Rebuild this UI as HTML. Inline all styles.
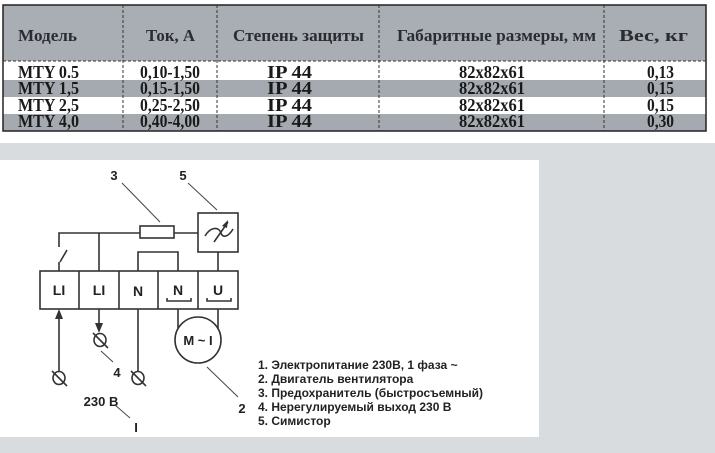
<!DOCTYPE html>
<html><head><meta charset="utf-8"><style>
html,body{margin:0;padding:0;background:#fff;}
svg{display:block;}
.h{font-family:"Liberation Serif",serif;font-weight:bold;font-size:17px;fill:#2a2c30;}
.r{font-family:"Liberation Serif",serif;font-weight:bold;font-size:18px;fill:#1a1a1a;}
.s{font-family:"Liberation Sans",sans-serif;font-weight:bold;fill:#222;}
</style></head><body>
<svg width="715" height="453" viewBox="0 0 715 453" xmlns="http://www.w3.org/2000/svg">
<rect x="0" y="0" width="715" height="453" fill="#fff"/>
<rect x="3" y="5" width="703" height="56" fill="#a9adb4"/>
<rect x="3" y="61" width="703" height="19" fill="#fff"/>
<rect x="3" y="80" width="703" height="17" fill="#a5a9b0"/>
<rect x="3" y="97" width="703" height="17" fill="#fff"/>
<rect x="3" y="114" width="703" height="17" fill="#a5a9b0"/>
<rect x="3" y="5" width="703" height="126" fill="none" stroke="#222" stroke-width="1.5"/>
<g stroke="#333" stroke-width="1" stroke-dasharray="3,2">
<line x1="3" y1="61" x2="706" y2="61"/>
<line x1="123" y1="5" x2="123" y2="131"/>
<line x1="217" y1="5" x2="217" y2="131"/>
<line x1="379" y1="5" x2="379" y2="131"/>
<line x1="604" y1="5" x2="604" y2="131"/>
</g>
<g class="h">
<text x="18" y="41" textLength="59" lengthAdjust="spacingAndGlyphs">Модель</text>
<text x="146" y="41" textLength="49" lengthAdjust="spacingAndGlyphs">Ток, А</text>
<text x="233" y="41" textLength="131" lengthAdjust="spacingAndGlyphs">Степень защиты</text>
<text x="397" y="41" textLength="199" lengthAdjust="spacingAndGlyphs">Габаритные размеры, мм</text>
<text x="619" y="41" textLength="69" lengthAdjust="spacingAndGlyphs">Вес, кг</text>
</g>
<g class="r">
<text x="18" y="78" textLength="61" lengthAdjust="spacingAndGlyphs">MTY 0.5</text><text x="140" y="78" textLength="60" lengthAdjust="spacingAndGlyphs">0,10-1,50</text><text x="267" y="78" textLength="45" lengthAdjust="spacingAndGlyphs">IP 44</text><text x="459" y="78" textLength="66" lengthAdjust="spacingAndGlyphs">82x82x61</text><text x="647" y="78" textLength="27" lengthAdjust="spacingAndGlyphs">0,13</text>
<text x="18" y="94" textLength="61" lengthAdjust="spacingAndGlyphs">MTY 1,5</text><text x="140" y="94" textLength="60" lengthAdjust="spacingAndGlyphs">0,15-1,50</text><text x="267" y="94" textLength="45" lengthAdjust="spacingAndGlyphs">IP 44</text><text x="459" y="94" textLength="66" lengthAdjust="spacingAndGlyphs">82x82x61</text><text x="647" y="94" textLength="27" lengthAdjust="spacingAndGlyphs">0,15</text>
<text x="18" y="111" textLength="61" lengthAdjust="spacingAndGlyphs">MTY 2,5</text><text x="140" y="111" textLength="60" lengthAdjust="spacingAndGlyphs">0,25-2,50</text><text x="267" y="111" textLength="45" lengthAdjust="spacingAndGlyphs">IP 44</text><text x="459" y="111" textLength="66" lengthAdjust="spacingAndGlyphs">82x82x61</text><text x="647" y="111" textLength="27" lengthAdjust="spacingAndGlyphs">0,15</text>
<text x="18" y="127" textLength="61" lengthAdjust="spacingAndGlyphs">MTY 4,0</text><text x="140" y="127" textLength="60" lengthAdjust="spacingAndGlyphs">0,40-4,00</text><text x="267" y="127" textLength="45" lengthAdjust="spacingAndGlyphs">IP 44</text><text x="459" y="127" textLength="66" lengthAdjust="spacingAndGlyphs">82x82x61</text><text x="647" y="127" textLength="27" lengthAdjust="spacingAndGlyphs">0,30</text>
</g>
<rect x="0" y="143" width="715" height="310" fill="#d8dcdf"/>
<rect x="0" y="160" width="539" height="277" fill="#fff"/>
<g stroke="#333" stroke-width="1.6" fill="none">
<rect x="40" y="271" width="198" height="38"/>
<line x1="79" y1="271" x2="79" y2="309"/><line x1="119" y1="271" x2="119" y2="309"/>
<line x1="158" y1="271" x2="158" y2="309"/><line x1="198" y1="271" x2="198" y2="309"/>
<polyline points="59,247 59,233 140,233"/>
<line x1="60" y1="262" x2="67" y2="250"/>
<line x1="59" y1="262" x2="59" y2="271"/>
<line x1="99" y1="233" x2="99" y2="271"/>
<rect x="140" y="226" width="34" height="12"/>
<line x1="174" y1="233" x2="198" y2="233"/>
<rect x="198" y="213" width="40" height="39"/>
<line x1="218" y1="252" x2="218" y2="271"/>
<polyline points="138,271 138,252 178,252 178,271"/>
<path d="M205 236 C211 226 219 227 221 233 C223 239 229 236 233 229"/>
<line x1="214" y1="242" x2="228" y2="222"/>
<polyline points="167,298 167,301 191,301 191,298"/>
<polyline points="207,298 207,301 231,301 231,298"/>
<line x1="178" y1="309" x2="178" y2="328"/><line x1="218" y1="309" x2="218" y2="328"/>
<circle cx="198" cy="340" r="23" fill="#fff"/>
<line x1="59" y1="318" x2="59" y2="372"/>
<line x1="99" y1="309" x2="99" y2="328"/>
<line x1="138" y1="309" x2="138" y2="372"/>
<ellipse cx="59" cy="378" rx="6" ry="6.5"/><line x1="52" y1="371" x2="67" y2="386"/>
<ellipse cx="100" cy="340" rx="6" ry="6.5"/><line x1="93" y1="333" x2="108" y2="348"/>
<ellipse cx="138" cy="378" rx="6" ry="6.5"/><line x1="131" y1="371" x2="146" y2="386"/>
</g>
<polygon points="228,220 222,226 227,228" fill="#333"/>
<polygon points="59,309 55,319 63,319" fill="#333"/>
<polygon points="99,333 95,323 103,323" fill="#333"/>
<g stroke="#444" stroke-width="1">
<line x1="122" y1="183" x2="160" y2="222"/>
<line x1="188" y1="183" x2="217" y2="210"/>
<line x1="101" y1="351" x2="113" y2="362"/>
<line x1="115" y1="405" x2="130" y2="418"/>
<line x1="207" y1="367" x2="238" y2="397"/>
</g>
<g class="s" font-size="14" text-anchor="middle">
<text x="59" y="295">LI</text><text x="99" y="295">LI</text>
<text x="138" y="296">N</text><text x="178" y="295">N</text><text x="218" y="295">U</text>
<text x="198" y="345" font-size="13">M ~ I</text>
<text x="114" y="180" font-size="13">3</text><text x="183" y="180" font-size="13">5</text>
<text x="117" y="377" font-size="13">4</text>
<text x="101" y="406" font-size="13">230 В</text>
<text x="136" y="432" font-size="13">I</text>
<text x="242" y="413" font-size="13">2</text>
</g>
<g class="s" font-size="12">
<text x="258" y="369">1. Электропитание 230В, 1 фаза ~</text>
<text x="258" y="383">2. Двигатель вентилятора</text>
<text x="258" y="397">3. Предохранитель (быстросъемный)</text>
<text x="258" y="411">4. Нерегулируемый выход 230 В</text>
<text x="258" y="425">5. Симистор</text>
</g>
</svg>
</body></html>
